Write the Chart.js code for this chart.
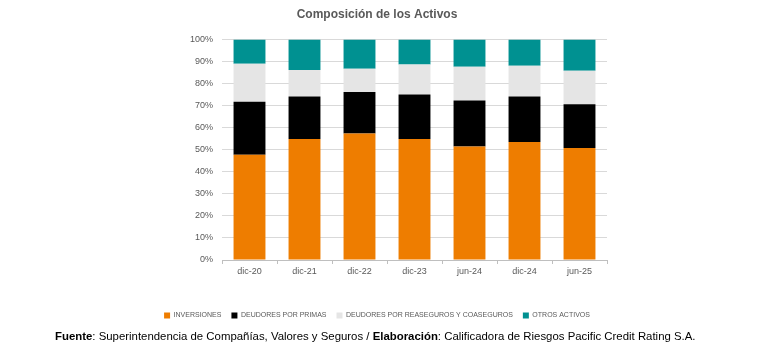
<!DOCTYPE html>
<html>
<head>
<meta charset="utf-8">
<script src="https://cdn.jsdelivr.net/npm/chart.js@4.4.0/dist/chart.umd.min.js"></script>
<style>
  body { margin: 0; background: #fff; }
  #wrap { position: relative; width: 773px; height: 346px; }
  #fuente {
    position: absolute; left: 55px; top: 330px;
    font-family: "Liberation Sans", Arial, sans-serif; font-size: 11.4px; color: #000;
    white-space: nowrap;
  }
</style>
</head>
<body>
<div id="wrap">
  <canvas id="activosChart" width="773" height="346"></canvas>
  <div id="fuente"><b>Fuente</b>: Superintendencia de Compañías, Valores y Seguros / <b>Elaboración</b>: Calificadora de Riesgos Pacific Credit Rating S.A.</div>
</div>
<script>
// periodos y composicion (% del activo)
const periodos = ['dic-20', 'dic-21', 'dic-22', 'dic-23', 'jun-24', 'dic-24', 'jun-25'];
const inversiones = [47.7, 54.8, 57.4, 54.8, 51.4, 53.5, 50.8];
const deudoresPrimas = [24.0, 19.3, 18.8, 20.2, 20.9, 20.6, 19.8];
const deudoresReaseguros = [17.3, 12.0, 10.5, 13.6, 15.3, 13.9, 15.2];
const otrosActivos = [11.0, 13.9, 13.3, 11.4, 12.4, 12.0, 14.2];

const fontFam = '"Liberation Sans", Arial, sans-serif';

function serie(label, data, color) {
  return {
    label: label,
    data: data,
    backgroundColor: color,
    borderWidth: 0,
    barPercentage: 0.58,
    categoryPercentage: 1.0
  };
}

const ctx = document.getElementById('activosChart');
new Chart(ctx, {
  type: 'bar',
  data: {
    labels: periodos,
    datasets: [
      serie('INVERSIONES', inversiones, '#EE7D00'),
      serie('DEUDORES POR PRIMAS', deudoresPrimas, '#000000'),
      serie('DEUDORES POR REASEGUROS Y COASEGUROS', deudoresReaseguros, '#E5E5E5'),
      serie('OTROS ACTIVOS', otrosActivos, '#009191')
    ]
  },
  options: {
    responsive: false,
    animation: false,
    layout: { padding: { left: 147, right: 166, top: 0, bottom: 17 } },
    plugins: {
      title: {
        display: true,
        text: 'Composición de los Activos',
        color: '#595959',
        font: { family: fontFam, size: 12, weight: 'bold' },
        padding: { top: 7, bottom: 18 }
      },
      legend: {
        position: 'bottom',
        labels: {
          boxWidth: 6,
          boxHeight: 6,
          padding: 10,
          color: '#595959',
          font: { family: fontFam, size: 7 }
        }
      },
      tooltip: { enabled: false }
    },
    scales: {
      x: {
        stacked: true,
        grid: {
          drawOnChartArea: false,
          drawTicks: true,
          tickLength: 4,
          color: '#bfbfbf',
          offset: true
        },
        border: { color: '#bfbfbf' },
        ticks: {
          color: '#595959',
          padding: 2,
          font: { family: fontFam, size: 9 }
        },
        afterFit: function (scale) { scale.height = 42; }
      },
      y: {
        stacked: true,
        min: 0,
        max: 100,
        grid: { color: '#d9d9d9', drawTicks: false },
        border: { display: false },
        ticks: {
          stepSize: 10,
          padding: 9,
          color: '#595959',
          font: { family: fontFam, size: 9 },
          callback: function (v) { return v + '%'; }
        },
        afterFit: function (scale) { scale.width = 75; }
      }
    }
  }
});
</script>
</body>
</html>
